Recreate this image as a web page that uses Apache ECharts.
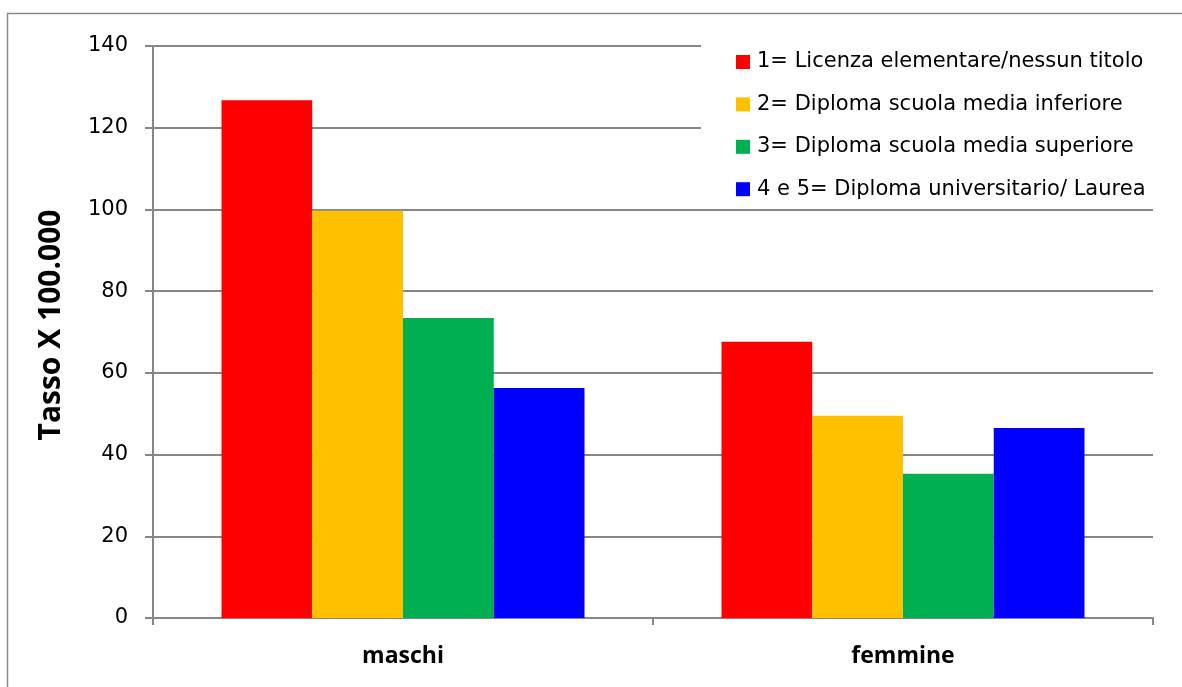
<!DOCTYPE html>
<html>
<head>
<meta charset="utf-8">
<script src="https://cdn.jsdelivr.net/npm/echarts@6/dist/echarts.min.js"></script>
<style>
html,body{margin:0;padding:0;background:#fff;}
#chart{width:1182px;height:687px;}
</style>
</head>
<body>
<div id="chart"></div>
<script>
const categories = ['maschi', 'femmine'];
const seriesNames = [
  '1= Licenza elementare/nessun titolo',
  '2= Diploma scuola media inferiore',
  '3= Diploma scuola media superiore',
  '4 e 5= Diploma universitario/ Laurea'
];
const licenza = [126.7, 67.6];
const mediaInferiore = [99.7, 49.5];
const mediaSuperiore = [73.4, 35.3];
const laurea = [56.3, 46.5];
const colors = ['#FF0000', '#FFC000', '#00B050', '#0000FF'];
const yAxisTitle = 'Tasso X 100.000';

const seriesData = [licenza, mediaInferiore, mediaSuperiore, laurea];
const FONT = '"Open Sans", sans-serif';
const FONT2 = '"DejaVu Sans", sans-serif';
const chart = echarts.init(document.getElementById('chart'), null, {renderer: 'canvas'});
chart.setOption({
  animation: false,
  backgroundColor: '#fff',
  graphic: [{
    type: 'rect', silent: true, z: -10,
    shape: {x: 7.5, y: 13.5, width: 1300, height: 800},
    style: {fill: 'none', stroke: '#8a8a8a', lineWidth: 1.5}
  }],
  grid: {left: 153, right: 29, top: 46, bottom: 69, containLabel: false},
  legend: {
    orient: 'vertical',
    left: 701, top: 36,
    backgroundColor: '#fff',
    padding: [15, 10, 6, 35],
    itemWidth: 14, itemHeight: 14, itemGap: 20.4,
    icon: 'rect',
    textStyle: {fontFamily: FONT2, fontSize: 21, color: '#000', lineHeight: 22, padding: [0, 0, 0, 2]},
    data: seriesNames
  },
  xAxis: {
    type: 'category',
    data: categories,
    axisLine: {lineStyle: {color: '#868686', width: 2}},
    axisTick: {show: true, length: 7, lineStyle: {color: '#868686', width: 2}},
    axisLabel: {fontFamily: FONT, fontSize: 23, fontWeight: 'bold', color: '#000', margin: 27}
  },
  yAxis: {
    type: 'value',
    min: 0, max: 140, interval: 20,
    name: yAxisTitle,
    nameLocation: 'middle',
    nameGap: 87,
    nameTextStyle: {fontFamily: FONT, fontSize: 30, fontWeight: 'bold', color: '#000', padding: [0, 0, 0, 14]},
    axisLine: {show: true, lineStyle: {color: '#868686', width: 2}},
    axisTick: {show: true, length: 8, lineStyle: {color: '#868686', width: 2}},
    axisLabel: {fontFamily: FONT2, fontSize: 21, color: '#000', margin: 25},
    splitLine: {lineStyle: {color: '#868686', width: 2}}
  },
  series: seriesNames.map((n, i) => ({
    name: n,
    type: 'bar',
    data: seriesData[i],
    itemStyle: {color: colors[i]},
    barGap: '0%',
    barCategoryGap: '27.4%'
  }))
});
</script>
</body>
</html>
